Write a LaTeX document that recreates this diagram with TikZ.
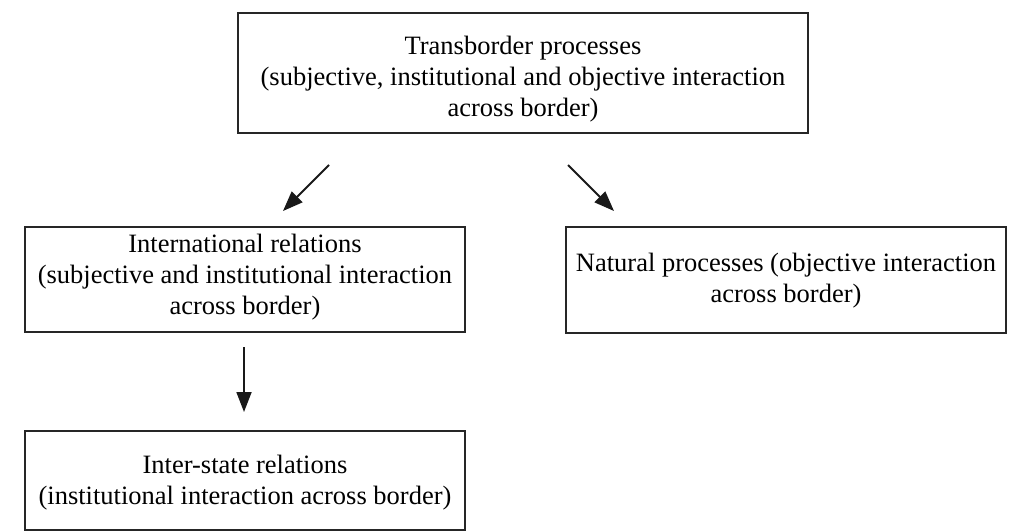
\documentclass[tikz,border=0pt]{standalone}
\usepackage{fontspec}
\setmainfont{Liberation Serif}
\usetikzlibrary{arrows.meta}
\begin{document}
\begin{tikzpicture}[x=1pt,y=-1pt,
  frame/.style={draw=black!85, line width=2.3pt, inner sep=0pt},
  label/.style={align=center, inner sep=0pt, font=\fontsize{26.5}{31}\selectfont},
  flow/.style={draw=black!90, line width=1.8pt, -{Triangle[length=20pt,width=15pt]}}]
  \useasboundingbox (0,0) rectangle (1017,532);
  % boxes
  \node[frame, minimum width=570pt, minimum height=120pt] (top) at (523,73) {};
  \node[frame, minimum width=440pt, minimum height=105pt] (ir) at (245,279.5) {};
  \node[frame, minimum width=440pt, minimum height=106pt] (np) at (786,280) {};
  \node[frame, minimum width=440pt, minimum height=99pt] (is) at (245,480.5) {};
  % texts
  \node[label] (topt) at (523,79.5) {Transborder processes\\(subjective, institutional and objective interaction\\across border)};
  \node[label] (irt) at (245,277) {International relations\\(subjective and institutional interaction\\across border)};
  \node[label] (npt) at (786,281) {Natural processes (objective interaction\\across border)};
  \node[label] (ist) at (245,482.5) {Inter-state relations\\(institutional interaction across border)};
  % arrows
  \coordinate (a1s) at (329,165); \coordinate (a1e) at (283,211);
  \coordinate (a2s) at (568,165); \coordinate (a2e) at (614,211);
  \coordinate (a3s) at (244,347); \coordinate (a3e) at (244,412);
  \draw[flow] (a1s) -- (a1e);
  \draw[flow] (a2s) -- (a2e);
  \draw[flow] (a3s) -- (a3e);
\end{tikzpicture}
\end{document}
